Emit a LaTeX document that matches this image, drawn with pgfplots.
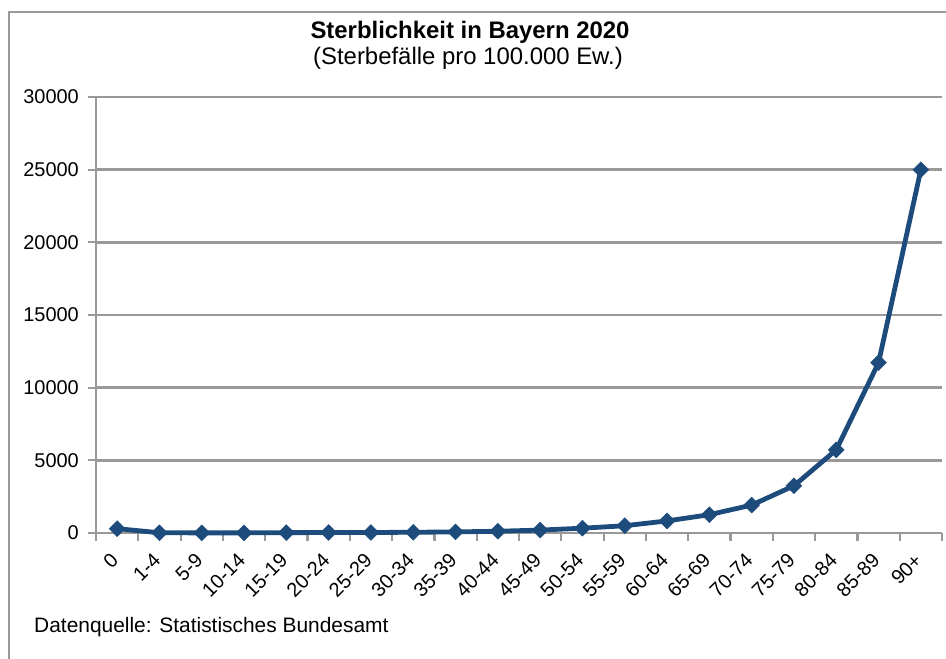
\documentclass[border=0pt]{standalone}
\usepackage{pgfplots}
\pgfplotsset{compat=1.18}
\usepackage{fontspec}
\setmainfont{Liberation Sans}
\definecolor{linie}{HTML}{1D4C7C}
\definecolor{raster}{HTML}{999999}

% Sterbefälle je 100.000 Einwohner nach Altersgruppe, Bayern 2020
\pgfplotstableread{
idx rate
0   300
1   15
2   8
3   10
4   25
5   30
6   35
7   50
8   75
9   120
10  200
11  330
12  500
13  830
14  1260
15  1920
16  3250
17  5720
18  11720
19  25000
}\sterblichkeit

\begin{document}
\begin{tikzpicture}
\useasboundingbox (0bp,0bp) rectangle (946bp,659bp);
% Rahmen des Diagramms
\draw[raster, line width=2bp] (9bp,-20bp) -- (9bp,647bp) -- (990bp,647bp);
\node[font=\fontsize{24}{28}\selectfont\bfseries, anchor=base, inner sep=0pt] at (470bp,620bp) {Sterblichkeit in Bayern 2020};
\node[font=\fontsize{24}{28}\selectfont, anchor=base, inner sep=0pt] at (468bp,594bp) {(Sterbefälle pro 100.000 Ew.)};
\node[font=\fontsize{21}{24}\selectfont, anchor=base west, inner sep=0pt] at (34bp,27bp) {Datenquelle: Statistisches Bundesamt};
\begin{axis}[
  at={(96bp,126bp)}, anchor=south west,
  scale only axis, width=846bp, height=436bp,
  xmin=-0.5, xmax=19.5, ymin=0, ymax=30000,
  axis x line*=bottom, axis y line*=left,
  axis line style={raster, line width=2.5bp, -},
  ymajorgrids, grid style={raster, line width=2.5bp},
  ytick={0,5000,...,30000},
  tick align=outside, major tick length=8bp,
  tick style={raster, line width=2.2bp},
  yticklabel style={font=\fontsize{20}{22}\selectfont, inner sep=0pt, xshift=-9bp},
  /pgf/number format/assume math mode=true,
  /pgf/number format/1000 sep={},
  scaled y ticks=false,
  xtick={-0.5,0.5,...,19.5},
  xticklabel=\empty,
  extra x ticks={0,...,19},
  extra x tick labels={0,1-4,5-9,10-14,15-19,20-24,25-29,30-34,35-39,40-44,45-49,50-54,55-59,60-64,65-69,70-74,75-79,80-84,85-89,90+},
  extra x tick style={
    tick style={draw=none},
    grid=none,
    % Verschiebung im gedrehten Koordinatensystem der Beschriftung
    tick label style={font=\fontsize{20}{22}\selectfont, rotate=45, anchor=east, inner sep=0pt, xshift=-13bp, yshift=-9.6bp},
  },
  clip=false,
]
\addplot[linie, line width=4.8bp, mark=square*, mark size=5.6bp,
  mark options={rotate=45, line width=0.5bp, fill=linie}]
  table[x=idx, y=rate] {\sterblichkeit};
\end{axis}
\end{tikzpicture}
\end{document}
